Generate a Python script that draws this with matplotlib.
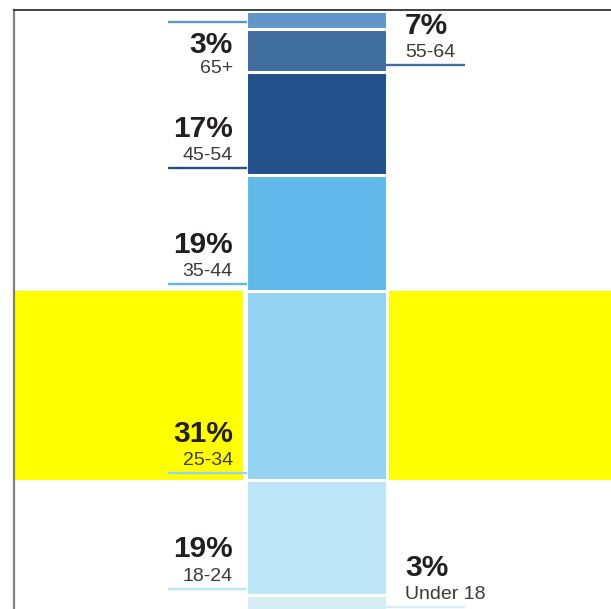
import numpy as np
import matplotlib.pyplot as plt

# age groups from the bottom of the bar to the top
groups = ['Under 18', '18-24', '25-34', '35-44', '45-54', '55-64', '65+']
shares = [3, 19, 31, 19, 17, 7, 3]  # percent
highlight = '25-34'

colors = ['#d6edf6', '#bde6f6', '#94d4f2', '#5fb8e8', '#22508a', '#3e6d9e', '#6096c9']
label_side = ['right', 'left', 'left', 'left', 'left', 'right', 'left']
label_below = [False, False, False, False, False, False, True]

plt.rcParams['font.family'] = ['Liberation Sans', 'DejaVu Sans']
text_color = '#231f20'

fig = plt.figure(figsize=(6.11, 6.09), dpi=100)
ax = fig.add_axes([14 / 611, 0, 597 / 611, 599 / 609])

bottoms = np.cumsum([0] + shares[:-1])
half = 0.5

# yellow band behind the highlighted group
hi = groups.index(highlight)
ax.axhspan(bottoms[hi], bottoms[hi] + shares[hi], color='#ffff00', lw=0, zorder=0)
ax.bar(0, sum(shares), width=1.03, color='white', zorder=1)
ax.bar(np.zeros(len(shares)), shares, bottom=bottoms, width=1, color=colors,
       edgecolor='white', linewidth=2.2, zorder=2)

for g, v, b, c, side, below in zip(groups, shares, bottoms, colors, label_side, label_below):
    y = b + 1.1
    if side == 'left':
        ax.plot([-1.05, -half + 0.012], [y, y], color=c, lw=1.7, solid_capstyle='butt', zorder=3)
        tx, ha = -0.59, 'right'
    else:
        ax.plot([half - 0.012, 1.06], [y, y], color=c, lw=1.7, solid_capstyle='butt', zorder=3)
        tx, ha = 0.63, 'left'
    if below:
        y_pct, y_age = y - 5.0, y - 8.4
    else:
        y_pct, y_age = y + 5.1, y + 1.3
    ax.text(tx, y_pct, f'{v}%', ha=ha, va='baseline', fontsize=21.5, fontweight='bold',
            color=text_color, zorder=4)
    ax.text(tx, y_age, g, ha=ha, va='baseline', fontsize=14, color='#3a3a3a', zorder=4)

ax.set_xlim(-2.142, 2.092)
ax.set_ylim(0.74, 99.1)
ax.set_xticks([])
ax.set_yticks([])
ax.spines['right'].set_visible(False)
ax.spines['bottom'].set_visible(False)
ax.spines['top'].set_color('#333333')
ax.spines['top'].set_linewidth(1.3)
ax.spines['left'].set_color('#808080')
ax.spines['left'].set_linewidth(1.6)

fig.savefig('out.png', dpi=100)
